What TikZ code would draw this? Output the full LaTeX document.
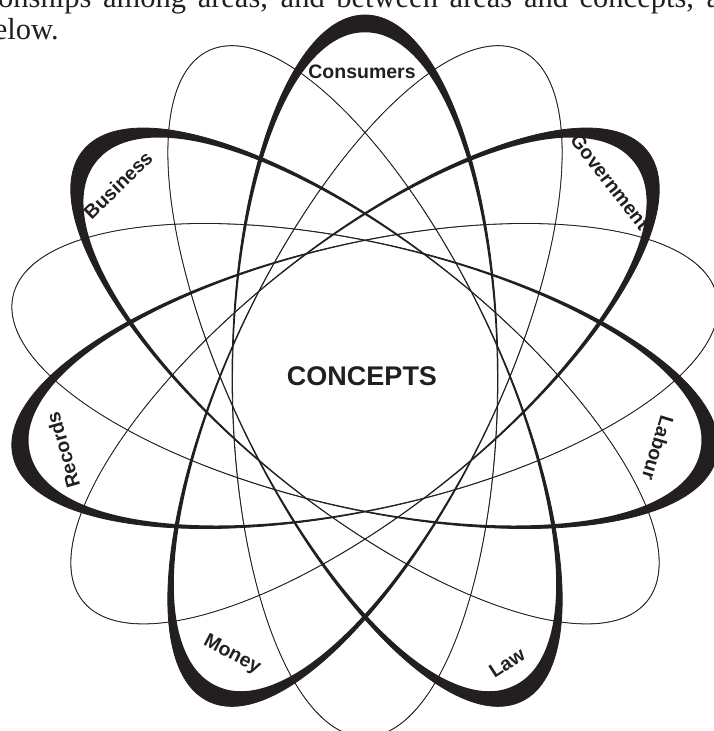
\documentclass[tikz,border=0pt]{standalone}
\usepackage{fontspec}
\setmainfont{Liberation Serif}
\setsansfont{Liberation Sans}
\definecolor{ink}{HTML}{231F20}
% inner edge of the tapering band: ellipse point moved inward along the normal by w(t)
\newcommand\myW{(0.3+9.5*((1+sin(\t))/2)^20+6.5*((1+sin(\t))/2)^4+1.0*((1+sin(\t))/2)^2)}
\newcommand\myN{sqrt(13.0321*cos(\t)^2+1.7689*sin(\t)^2)}
\newcommand\myPetal[1]{% #1 direction of the thick end
  \begin{scope}[shift={(C)}, rotate=#1-90]
    \fill[ink, even odd rule] (0,0) ellipse [x radius=133, y radius=361]
      plot[domain=0:360, samples=289, variable=\t, smooth]
        ({133*cos(\t) - \myW*3.61*cos(\t)/\myN},
         {361*sin(\t) - \myW*1.33*sin(\t)/\myN}) -- cycle;
    \draw[ink, line width=0.8pt] (0,0) ellipse [x radius=133, y radius=361];
  \end{scope}}
\begin{document}
\begin{tikzpicture}[x=1pt,y=1pt,
  lbl/.style={font=\sffamily\bfseries\fontsize{19.5}{21}\selectfont, text=ink, inner sep=0pt},
  bigl/.style={font=\sffamily\bfseries\fontsize{27}{30}\selectfont, text=ink, inner sep=0pt},
  prose/.style={font=\fontsize{30.5}{33}\selectfont, text=ink, inner sep=0pt}]
\useasboundingbox (0,0) rectangle (714,731);
\clip (0,0) rectangle (714,731);
\coordinate (C) at (365,355);
\myPetal{90}
\myPetal{141.43}
\myPetal{192.86}
\myPetal{244.29}
\myPetal{295.71}
\myPetal{347.14}
\myPetal{38.57}
\node[lbl] (cons) at (362,659) {Consumers};
\node[lbl, rotate=44] (bus) at (118,546) {Business};
\node[lbl, rotate=-52] (gov) at (610,549) {Government};
\node[lbl, rotate=106] (rec) at (63,281) {Records};
\node[lbl, rotate=-107] (lab) at (658,283) {Labour};
\node[lbl, rotate=-28] (mon) at (232,76) {Money};
\node[lbl, rotate=33] (law) at (507,68) {Law};
\node[bigl] (concepts) at (362,355) {CONCEPTS};
\node[prose, anchor=base west] (line1) at (-2,723.5)
  {\llap{relati}\makebox[722pt][s]{onships among areas, and between areas and concepts, a}};
\node[prose, anchor=base east] (line2) at (59,691) {below.};
\end{tikzpicture}
\end{document}
